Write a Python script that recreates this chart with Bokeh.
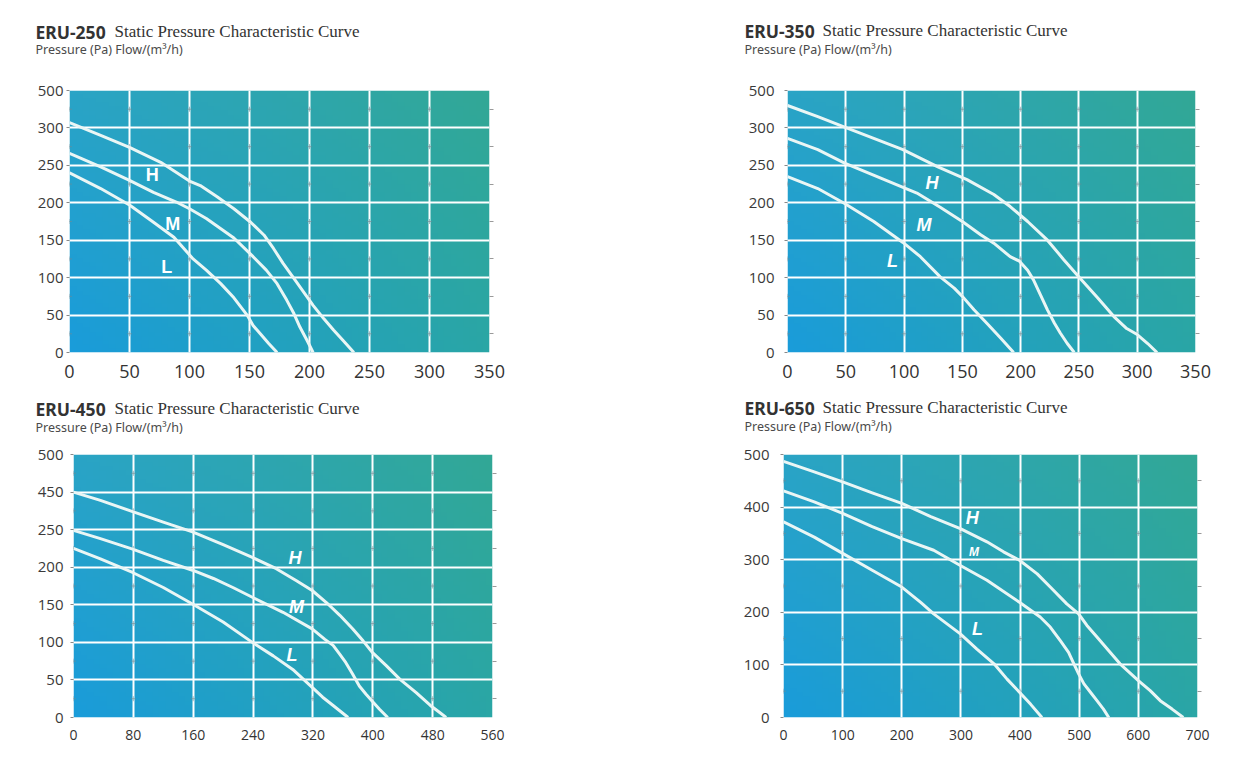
import numpy as np
from bokeh.plotting import figure
from bokeh.layouts import column, row
from bokeh.models import Range1d, FixedTicker, Label, LinearAxis
from bokeh.core.properties import value
from bokeh.embed import file_html
from bokeh.resources import INLINE

# ---------------- data ----------------
# ERU-250
e250_h_x = [0, 26, 50, 76, 100, 109, 123, 137, 151, 162, 170, 178, 187, 195, 203, 212, 220, 228, 237]
e250_h_y = [307, 290, 274, 254, 229, 223, 208, 192, 174, 157, 139, 119, 99, 81, 63, 45, 30, 16, 0]
e250_m_x = [0, 26, 50, 70, 89, 100, 114, 137, 153, 164, 173, 181, 187, 192, 198, 203]
e250_m_y = [266, 248, 230, 214, 201, 192, 179, 153, 128, 110, 92, 70, 52, 34, 16, 0]
e250_l_x = [0, 26, 50, 70, 87, 103, 114, 126, 137, 148, 153, 159, 166, 173]
e250_l_y = [240, 219, 197, 174, 154, 125, 110, 92, 73, 50, 36, 25, 12, 0]
e250_lab_x = [69, 86, 81]
e250_lab_y = [237, 171, 114]

# ERU-350
e350_h_x = [0, 26, 49, 74, 99, 129, 154, 177, 191, 206, 223, 237, 250, 266, 280, 291, 300, 309, 317]
e350_h_y = [330, 315, 301, 286, 271, 248, 231, 211, 195, 175, 150, 124, 101, 73, 48, 32, 24, 12, 0]
e350_m_x = [0, 26, 49, 80, 111, 131, 150, 166, 177, 191, 199, 206, 211, 217, 223, 229, 234, 240, 246]
e350_m_y = [286, 271, 253, 233, 213, 194, 175, 157, 146, 128, 122, 110, 97, 77, 57, 39, 26, 12, 0]
e350_l_x = [0, 26, 49, 74, 99, 114, 131, 143, 150, 160, 171, 183, 194]
e350_l_y = [235, 219, 199, 175, 147, 128, 101, 86, 75, 57, 39, 19, 0]
e350_lab_x = [124, 117, 90]
e350_lab_y = [226, 170, 122]

# ERU-450
e450_h_x = [0, 36, 79, 120, 159, 200, 239, 271, 298, 319, 338, 356, 373, 387, 399, 418, 436, 458, 477, 489, 498]
e450_h_y = [300, 289, 274, 260, 247, 230, 213, 198, 182, 169, 153, 136, 118, 102, 87, 69, 51, 33, 16, 7, 0]
e450_m_x = [0, 36, 79, 120, 159, 187, 213, 239, 280, 319, 336, 347, 356, 364, 373, 382, 391, 399, 409, 420]
e450_m_y = [249, 238, 224, 209, 196, 185, 173, 160, 140, 118, 104, 96, 84, 73, 58, 42, 31, 22, 11, 0]
e450_l_x = [0, 36, 79, 120, 159, 200, 239, 267, 293, 319, 333, 347, 367]
e450_l_y = [225, 211, 193, 173, 151, 127, 100, 82, 64, 40, 27, 16, 0]
e450_lab_x = [296, 298, 292]
e450_lab_y = [212, 147, 83]

# ERU-650
e650_h_x = [0, 52, 100, 150, 200, 249, 299, 344, 372, 399, 429, 451, 479, 499, 513, 530, 550, 569, 600, 620, 637, 657, 676]
e650_h_y = [487, 467, 448, 427, 407, 382, 359, 334, 315, 299, 273, 248, 216, 197, 175, 153, 127, 102, 70, 51, 32, 16, 0]
e650_m_x = [0, 52, 100, 150, 200, 254, 299, 344, 399, 418, 434, 451, 468, 482, 491, 499, 508, 519, 530, 541, 550]
e650_m_y = [431, 410, 388, 363, 340, 318, 289, 261, 219, 204, 191, 172, 146, 124, 102, 83, 64, 48, 32, 16, 0]
e650_l_x = [0, 52, 100, 150, 200, 232, 254, 299, 327, 356, 378, 399, 418, 437]
e650_l_y = [372, 343, 312, 280, 248, 219, 197, 159, 130, 102, 73, 48, 25, 0]
e650_lab_x = [319, 322, 328]
e650_lab_y = [379, 315, 169]

curve_names = ["H", "M", "L"]

x_ticks_350 = [0, 50, 100, 150, 200, 250, 300, 350]
y_ticks_350 = [0, 50, 100, 150, 200, 250, 300, 350]
y_labels_250 = ["0", "50", "100", "150", "200", "250", "300", "500"]
y_labels_450 = ["0", "50", "100", "150", "200", "250", "450", "500"]
x_ticks_560 = [0, 80, 160, 240, 320, 400, 480, 560]
x_ticks_700 = [0, 100, 200, 300, 400, 500, 600, 700]
y_ticks_500 = [0, 100, 200, 300, 400, 500]

models = ["ERU-250", "ERU-350", "ERU-450", "ERU-650"]
title_rest = "Static Pressure Characteristic Curve"
subtitle = "Pressure (Pa) Flow/(m\u00b3/h)"

HEADER_H = 58


def gradient(n=64):
    # corner colours: bottom-left, bottom-right, top-left, top-right
    bl = np.array([26, 156, 218])
    br = np.array([42, 166, 166])
    tl = np.array([42, 164, 198])
    tr = np.array([50, 168, 150])
    u = np.linspace(0, 1, n)[None, :, None]
    v = np.linspace(0, 1, n)[:, None, None]
    col = (1 - u) * (1 - v) * bl + u * (1 - v) * br + (1 - u) * v * tl + u * v * tr
    img = np.zeros((n, n), dtype=np.uint32)
    view = img.view(dtype=np.uint8).reshape((n, n, 4))
    view[:, :, 0:3] = col.astype(np.uint8)
    view[:, :, 3] = 255
    return img


def make_header(model, width, title_x, serif_x, title_y, sub_y):
    h = figure(width=width, height=HEADER_H, output_backend="svg", toolbar_location=None,
               x_range=Range1d(0, 1), y_range=Range1d(0, 1),
               x_axis_type=None, y_axis_type=None, min_border=0)
    h.grid.visible = False
    h.outline_line_color = None
    h.background_fill_color = "white"
    h.border_fill_color = "white"
    h.add_layout(Label(x=title_x, y=title_y, x_units="screen", y_units="screen",
                       text=model, text_font="Noto Sans", text_font_style="bold",
                       text_font_size="17.5px", text_color="#333333",
                       text_baseline="alphabetic"))
    h.add_layout(Label(x=serif_x, y=title_y, x_units="screen", y_units="screen",
                       text=title_rest, text_font="Liberation Serif",
                       text_font_size="17px", text_color="#333333",
                       text_baseline="alphabetic"))
    h.add_layout(Label(x=title_x, y=sub_y, x_units="screen", y_units="screen",
                       text=subtitle, text_font="Noto Sans",
                       text_font_size="12.5px", text_color="#4a4a4a",
                       text_baseline="alphabetic"))
    return h


def make_panel(xmax, ymax, xticks, yticks, ylabels, curves, lab_x, lab_y,
               lab_sizes, italic, fw, fh, bl, br, bt, bb, xfont, yfont, ystand):
    p = figure(width=bl + fw + br, height=bt + fh + bb, output_backend="svg",
               toolbar_location=None, x_range=Range1d(0, xmax), y_range=Range1d(0, ymax),
               min_border_left=bl, min_border_right=br, min_border_top=bt,
               min_border_bottom=bb)
    p.frame_width = fw
    p.frame_height = fh
    p.outline_line_color = None
    p.background_fill_color = "white"
    p.border_fill_color = "white"

    p.image_rgba(image=[gradient()], x=0, y=0, dw=xmax, dh=ymax, level="image")

    p.xgrid.ticker = FixedTicker(ticks=xticks[1:-1])
    p.ygrid.ticker = FixedTicker(ticks=yticks[1:-1])
    for g in (p.xgrid, p.ygrid):
        g.grid_line_color = "white"
        g.grid_line_width = 2

    # faint marks at the middle of each grid cell edge (as in the source image)
    mids = [(a + b) / 2 for a, b in zip(yticks[:-1], yticks[1:])]
    mx = [xv for xv in xticks[:-1] for _ in mids]
    my = [yv for _ in xticks[:-1] for yv in mids]
    p.scatter(mx, my, marker="cross", size=5, line_color="#6f8a94",
              line_alpha=0.6, line_width=1)

    for (cx, cy) in curves:
        p.line(cx, cy, line_color="#eaf6f5", line_width=3, line_join="round")

    for name, tx, ty, ts in zip(curve_names, lab_x, lab_y, lab_sizes):
        p.text(x=[tx], y=[ty], text=[name], text_color="white",
               text_font=value("Liberation Sans"), text_font_size=ts,
               text_font_style="bold italic" if italic else "bold",
               text_align="center", text_baseline="middle")

    xa = p.xaxis[0]
    xa.ticker = FixedTicker(ticks=xticks)
    xa.axis_line_color = None
    xa.major_tick_line_color = None
    xa.minor_tick_line_color = None
    xa.major_label_text_font = "Open Sans"
    xa.major_label_text_font_size = xfont
    xa.major_label_text_color = "#333333"
    xa.major_label_standoff = 6

    ya = p.yaxis[0]
    ya.ticker = FixedTicker(ticks=yticks)
    ya.major_label_overrides = {t: l for t, l in zip(yticks, ylabels)}
    ya.axis_line_color = None
    ya.major_tick_in = 0
    ya.major_tick_out = 3
    ya.major_tick_line_color = "#888888"
    ya.minor_tick_line_color = None
    ya.major_label_text_font = "Open Sans"
    ya.major_label_text_font_size = yfont
    ya.major_label_text_color = "#3a3a3a"
    ya.major_label_standoff = ystand

    ra = LinearAxis(ticker=FixedTicker(ticks=[], minor_ticks=mids),
                    axis_line_color=None, major_tick_line_color=None,
                    minor_tick_in=0, minor_tick_out=4,
                    minor_tick_line_color="#9a9a9a")
    p.add_layout(ra, "right")
    return p


h1 = make_header(models[0], 625, 35, 114, 27, 9)
h2 = make_header(models[1], 625, 119, 197, 28, 9)
h3 = make_header(models[2], 625, 35, 114, 35, 16)
h4 = make_header(models[3], 625, 119, 197, 36, 17)

p1 = make_panel(350, 350, x_ticks_350, y_ticks_350, y_labels_250,
                [(e250_h_x, e250_h_y), (e250_m_x, e250_m_y), (e250_l_x, e250_l_y)],
                e250_lab_x, e250_lab_y, ["18px", "18px", "18px"], False,
                420, 262, 69, 136, 32, 33, "18px", "15px", 3)
p2 = make_panel(350, 350, x_ticks_350, y_ticks_350, y_labels_250,
                [(e350_h_x, e350_h_y), (e350_m_x, e350_m_y), (e350_l_x, e350_l_y)],
                e350_lab_x, e350_lab_y, ["18px", "18px", "18px"], True,
                408, 262, 162, 55, 29, 36, "18px", "15px", 10)
p3 = make_panel(560, 350, x_ticks_560, y_ticks_350, y_labels_450,
                [(e450_h_x, e450_h_y), (e450_m_x, e450_m_y), (e450_l_x, e450_l_y)],
                e450_lab_x, e450_lab_y, ["18px", "18px", "18px"], True,
                419, 263, 73, 133, 11, 41, "14px", "15px", 7)
p4 = make_panel(700, 500, x_ticks_700, y_ticks_500, [str(t) for t in y_ticks_500],
                [(e650_h_x, e650_h_y), (e650_m_x, e650_m_y), (e650_l_x, e650_l_y)],
                e650_lab_x, e650_lab_y, ["18px", "12px", "18px"], True,
                414, 263, 158, 53, 10, 42, "14px", "15px", 11)

layout = column(row(h1, h2, spacing=0), row(p1, p2, spacing=0),
                row(h3, h4, spacing=0), row(p3, p4, spacing=0), spacing=0)
open("out.html", "w").write(file_html(layout, INLINE))
